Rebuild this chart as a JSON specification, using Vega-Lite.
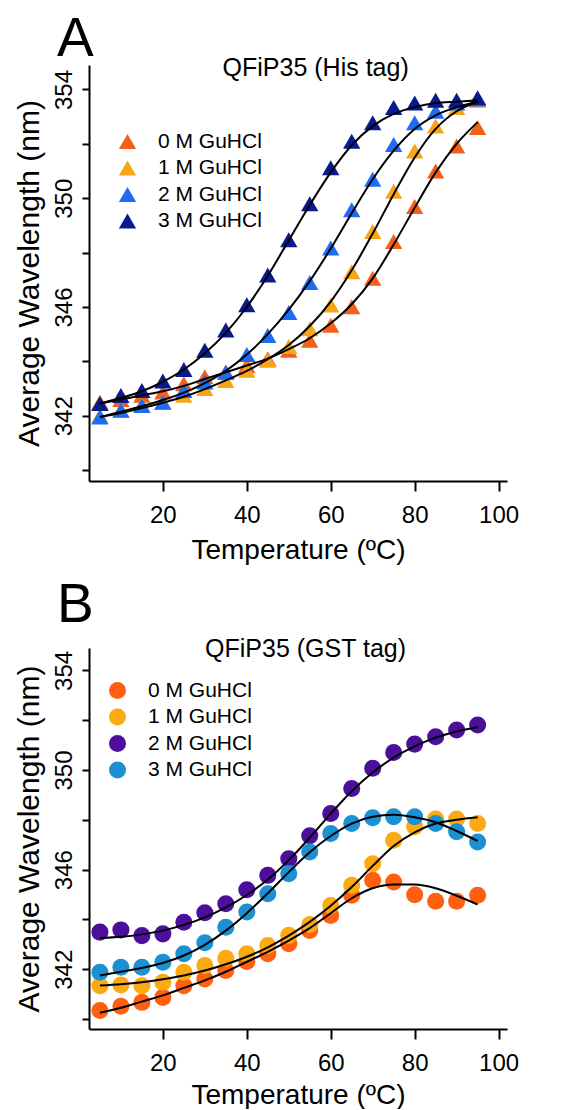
{
  "$schema": "https://vega.github.io/schema/vega-lite/v6.json",
  "background": "white",
  "padding": {"left": 14, "top": 11, "right": 0, "bottom": 0},
  "spacing": 14,
  "config": {
    "font": "Liberation Sans",
    "view": {"stroke": null},
    "axis": {
      "grid": false,
      "domainColor": "black",
      "domainWidth": 2,
      "tickColor": "black",
      "tickWidth": 2,
      "labelColor": "black",
      "titleColor": "black",
      "labelFontSize": 24,
      "titleFontSize": 28,
      "titleFontWeight": "normal",
      "labelFont": "Liberation Sans",
      "titleFont": "Liberation Sans",
      "labelFlush": false,
      "labelOverlap": false
    },
    "axisX": {"tickSize": 10, "labelPadding": 12, "titlePadding": 9},
    "axisY": {"tickSize": 7, "labelPadding": 6, "titlePadding": 8, "titleFontSize": 30, "labelAngle": 270, "labelAlign": "center", "labelBaseline": "bottom"},
    "legend": {
      "orient": "none",
      "title": null,
      "labelFontSize": 21,
      "labelColor": "black",
      "labelFont": "Liberation Sans",
      "symbolSize": 300,
      "symbolOpacity": 1,
      "symbolStrokeWidth": 0,
      "rowPadding": 4.5,
      "labelOffset": 20,
      "padding": 0
    },
    "title": {"fontWeight": "normal", "color": "black", "font": "Liberation Sans"}
  },
  "datasets": {
    "his": [
      {"conc":"0 M GuHCl","temp":5,"wavelength":342.5,"fit":342.45},
      {"conc":"0 M GuHCl","temp":10,"wavelength":342.6,"fit":342.6},
      {"conc":"0 M GuHCl","temp":15,"wavelength":342.75,"fit":342.75},
      {"conc":"0 M GuHCl","temp":20,"wavelength":342.87,"fit":342.9},
      {"conc":"0 M GuHCl","temp":25,"wavelength":343.18,"fit":343.1},
      {"conc":"0 M GuHCl","temp":30,"wavelength":343.43,"fit":343.35},
      {"conc":"0 M GuHCl","temp":35,"wavelength":343.6,"fit":343.6},
      {"conc":"0 M GuHCl","temp":40,"wavelength":343.85,"fit":343.85},
      {"conc":"0 M GuHCl","temp":45,"wavelength":344.1,"fit":344.1},
      {"conc":"0 M GuHCl","temp":50,"wavelength":344.41,"fit":344.45},
      {"conc":"0 M GuHCl","temp":55,"wavelength":344.78,"fit":344.85},
      {"conc":"0 M GuHCl","temp":60,"wavelength":345.33,"fit":345.4},
      {"conc":"0 M GuHCl","temp":65,"wavelength":346.01,"fit":346.1},
      {"conc":"0 M GuHCl","temp":70,"wavelength":347.06,"fit":347.05},
      {"conc":"0 M GuHCl","temp":75,"wavelength":348.41,"fit":348.3},
      {"conc":"0 M GuHCl","temp":80,"wavelength":349.7,"fit":349.65},
      {"conc":"0 M GuHCl","temp":85,"wavelength":351.0,"fit":350.95},
      {"conc":"0 M GuHCl","temp":90,"wavelength":351.92,"fit":352.0},
      {"conc":"0 M GuHCl","temp":95,"wavelength":352.6,"fit":352.8},
      {"conc":"1 M GuHCl","temp":5,"wavelength":342.0,"fit":341.95},
      {"conc":"1 M GuHCl","temp":10,"wavelength":342.2,"fit":342.1},
      {"conc":"1 M GuHCl","temp":15,"wavelength":342.4,"fit":342.28},
      {"conc":"1 M GuHCl","temp":20,"wavelength":342.5,"fit":342.48},
      {"conc":"1 M GuHCl","temp":25,"wavelength":342.75,"fit":342.7},
      {"conc":"1 M GuHCl","temp":30,"wavelength":343.0,"fit":342.98},
      {"conc":"1 M GuHCl","temp":35,"wavelength":343.3,"fit":343.3},
      {"conc":"1 M GuHCl","temp":40,"wavelength":343.67,"fit":343.65},
      {"conc":"1 M GuHCl","temp":45,"wavelength":344.04,"fit":344.08},
      {"conc":"1 M GuHCl","temp":50,"wavelength":344.55,"fit":344.6},
      {"conc":"1 M GuHCl","temp":55,"wavelength":345.2,"fit":345.3},
      {"conc":"1 M GuHCl","temp":60,"wavelength":346.07,"fit":346.2},
      {"conc":"1 M GuHCl","temp":65,"wavelength":347.3,"fit":347.35},
      {"conc":"1 M GuHCl","temp":70,"wavelength":348.78,"fit":348.7},
      {"conc":"1 M GuHCl","temp":75,"wavelength":350.26,"fit":350.15},
      {"conc":"1 M GuHCl","temp":80,"wavelength":351.74,"fit":351.5},
      {"conc":"1 M GuHCl","temp":85,"wavelength":352.66,"fit":352.55},
      {"conc":"1 M GuHCl","temp":90,"wavelength":353.34,"fit":353.2},
      {"conc":"1 M GuHCl","temp":95,"wavelength":353.6,"fit":353.55},
      {"conc":"2 M GuHCl","temp":5,"wavelength":341.95,"fit":341.95},
      {"conc":"2 M GuHCl","temp":10,"wavelength":342.2,"fit":342.15},
      {"conc":"2 M GuHCl","temp":15,"wavelength":342.38,"fit":342.35},
      {"conc":"2 M GuHCl","temp":20,"wavelength":342.5,"fit":342.58},
      {"conc":"2 M GuHCl","temp":25,"wavelength":342.93,"fit":342.85},
      {"conc":"2 M GuHCl","temp":30,"wavelength":343.24,"fit":343.2},
      {"conc":"2 M GuHCl","temp":35,"wavelength":343.6,"fit":343.65},
      {"conc":"2 M GuHCl","temp":40,"wavelength":344.25,"fit":344.25},
      {"conc":"2 M GuHCl","temp":45,"wavelength":344.95,"fit":345.0},
      {"conc":"2 M GuHCl","temp":50,"wavelength":345.8,"fit":345.9},
      {"conc":"2 M GuHCl","temp":55,"wavelength":346.9,"fit":346.95},
      {"conc":"2 M GuHCl","temp":60,"wavelength":348.17,"fit":348.15},
      {"conc":"2 M GuHCl","temp":65,"wavelength":349.58,"fit":349.45},
      {"conc":"2 M GuHCl","temp":70,"wavelength":350.7,"fit":350.7},
      {"conc":"2 M GuHCl","temp":75,"wavelength":351.98,"fit":351.75},
      {"conc":"2 M GuHCl","temp":80,"wavelength":352.78,"fit":352.55},
      {"conc":"2 M GuHCl","temp":85,"wavelength":353.2,"fit":353.05},
      {"conc":"2 M GuHCl","temp":90,"wavelength":353.5,"fit":353.35},
      {"conc":"2 M GuHCl","temp":95,"wavelength":353.65,"fit":353.55},
      {"conc":"3 M GuHCl","temp":5,"wavelength":342.45,"fit":342.45},
      {"conc":"3 M GuHCl","temp":10,"wavelength":342.74,"fit":342.65},
      {"conc":"3 M GuHCl","temp":15,"wavelength":342.93,"fit":342.9},
      {"conc":"3 M GuHCl","temp":20,"wavelength":343.28,"fit":343.25},
      {"conc":"3 M GuHCl","temp":25,"wavelength":343.7,"fit":343.7},
      {"conc":"3 M GuHCl","temp":30,"wavelength":344.41,"fit":344.3},
      {"conc":"3 M GuHCl","temp":35,"wavelength":345.15,"fit":345.05},
      {"conc":"3 M GuHCl","temp":40,"wavelength":346.08,"fit":346.0},
      {"conc":"3 M GuHCl","temp":45,"wavelength":347.18,"fit":347.15},
      {"conc":"3 M GuHCl","temp":50,"wavelength":348.47,"fit":348.45},
      {"conc":"3 M GuHCl","temp":55,"wavelength":349.8,"fit":349.75},
      {"conc":"3 M GuHCl","temp":60,"wavelength":351.12,"fit":350.95},
      {"conc":"3 M GuHCl","temp":65,"wavelength":352.1,"fit":351.95},
      {"conc":"3 M GuHCl","temp":70,"wavelength":352.78,"fit":352.65},
      {"conc":"3 M GuHCl","temp":75,"wavelength":353.34,"fit":353.1},
      {"conc":"3 M GuHCl","temp":80,"wavelength":353.5,"fit":353.35},
      {"conc":"3 M GuHCl","temp":85,"wavelength":353.6,"fit":353.5},
      {"conc":"3 M GuHCl","temp":90,"wavelength":353.6,"fit":353.55},
      {"conc":"3 M GuHCl","temp":95,"wavelength":353.7,"fit":353.6}
    ],
    "gst": [
      {"conc":"0 M GuHCl","temp":5,"wavelength":340.34,"fit":340.25},
      {"conc":"0 M GuHCl","temp":10,"wavelength":340.51,"fit":340.45},
      {"conc":"0 M GuHCl","temp":15,"wavelength":340.67,"fit":340.7},
      {"conc":"0 M GuHCl","temp":20,"wavelength":340.87,"fit":340.95},
      {"conc":"0 M GuHCl","temp":25,"wavelength":341.34,"fit":341.25},
      {"conc":"0 M GuHCl","temp":30,"wavelength":341.61,"fit":341.55},
      {"conc":"0 M GuHCl","temp":35,"wavelength":341.95,"fit":341.9},
      {"conc":"0 M GuHCl","temp":40,"wavelength":342.31,"fit":342.3},
      {"conc":"0 M GuHCl","temp":45,"wavelength":342.62,"fit":342.7},
      {"conc":"0 M GuHCl","temp":50,"wavelength":343.02,"fit":343.15},
      {"conc":"0 M GuHCl","temp":55,"wavelength":343.56,"fit":343.65},
      {"conc":"0 M GuHCl","temp":60,"wavelength":344.16,"fit":344.25},
      {"conc":"0 M GuHCl","temp":65,"wavelength":344.97,"fit":344.85},
      {"conc":"0 M GuHCl","temp":70,"wavelength":345.57,"fit":345.25},
      {"conc":"0 M GuHCl","temp":75,"wavelength":345.5,"fit":345.4},
      {"conc":"0 M GuHCl","temp":80,"wavelength":344.99,"fit":345.4},
      {"conc":"0 M GuHCl","temp":85,"wavelength":344.73,"fit":345.25},
      {"conc":"0 M GuHCl","temp":90,"wavelength":344.73,"fit":344.95},
      {"conc":"0 M GuHCl","temp":95,"wavelength":344.97,"fit":344.6},
      {"conc":"1 M GuHCl","temp":5,"wavelength":341.34,"fit":341.35},
      {"conc":"1 M GuHCl","temp":10,"wavelength":341.37,"fit":341.4},
      {"conc":"1 M GuHCl","temp":15,"wavelength":341.34,"fit":341.48},
      {"conc":"1 M GuHCl","temp":20,"wavelength":341.48,"fit":341.6},
      {"conc":"1 M GuHCl","temp":25,"wavelength":341.88,"fit":341.75},
      {"conc":"1 M GuHCl","temp":30,"wavelength":342.15,"fit":341.95},
      {"conc":"1 M GuHCl","temp":35,"wavelength":342.44,"fit":342.2},
      {"conc":"1 M GuHCl","temp":40,"wavelength":342.62,"fit":342.5},
      {"conc":"1 M GuHCl","temp":45,"wavelength":342.95,"fit":342.88},
      {"conc":"1 M GuHCl","temp":50,"wavelength":343.36,"fit":343.35},
      {"conc":"1 M GuHCl","temp":55,"wavelength":343.8,"fit":343.9},
      {"conc":"1 M GuHCl","temp":60,"wavelength":344.56,"fit":344.55},
      {"conc":"1 M GuHCl","temp":65,"wavelength":345.37,"fit":345.3},
      {"conc":"1 M GuHCl","temp":70,"wavelength":346.24,"fit":346.15},
      {"conc":"1 M GuHCl","temp":75,"wavelength":347.18,"fit":346.95},
      {"conc":"1 M GuHCl","temp":80,"wavelength":347.72,"fit":347.5},
      {"conc":"1 M GuHCl","temp":85,"wavelength":348.03,"fit":347.85},
      {"conc":"1 M GuHCl","temp":90,"wavelength":348.03,"fit":348.0},
      {"conc":"1 M GuHCl","temp":95,"wavelength":347.85,"fit":348.1},
      {"conc":"2 M GuHCl","temp":5,"wavelength":343.49,"fit":343.25},
      {"conc":"2 M GuHCl","temp":10,"wavelength":343.58,"fit":343.3},
      {"conc":"2 M GuHCl","temp":15,"wavelength":343.35,"fit":343.4},
      {"conc":"2 M GuHCl","temp":20,"wavelength":343.42,"fit":343.55},
      {"conc":"2 M GuHCl","temp":25,"wavelength":343.89,"fit":343.78},
      {"conc":"2 M GuHCl","temp":30,"wavelength":344.27,"fit":344.08},
      {"conc":"2 M GuHCl","temp":35,"wavelength":344.63,"fit":344.48},
      {"conc":"2 M GuHCl","temp":40,"wavelength":345.19,"fit":344.98},
      {"conc":"2 M GuHCl","temp":45,"wavelength":345.77,"fit":345.6},
      {"conc":"2 M GuHCl","temp":50,"wavelength":346.44,"fit":346.38},
      {"conc":"2 M GuHCl","temp":55,"wavelength":347.36,"fit":347.28},
      {"conc":"2 M GuHCl","temp":60,"wavelength":348.25,"fit":348.25},
      {"conc":"2 M GuHCl","temp":65,"wavelength":349.26,"fit":349.15},
      {"conc":"2 M GuHCl","temp":70,"wavelength":350.07,"fit":349.9},
      {"conc":"2 M GuHCl","temp":75,"wavelength":350.7,"fit":350.5},
      {"conc":"2 M GuHCl","temp":80,"wavelength":351.04,"fit":350.95},
      {"conc":"2 M GuHCl","temp":85,"wavelength":351.34,"fit":351.3},
      {"conc":"2 M GuHCl","temp":90,"wavelength":351.61,"fit":351.55},
      {"conc":"2 M GuHCl","temp":95,"wavelength":351.81,"fit":351.72},
      {"conc":"3 M GuHCl","temp":5,"wavelength":341.88,"fit":341.75},
      {"conc":"3 M GuHCl","temp":10,"wavelength":342.08,"fit":341.9},
      {"conc":"3 M GuHCl","temp":15,"wavelength":342.08,"fit":342.05},
      {"conc":"3 M GuHCl","temp":20,"wavelength":342.28,"fit":342.25},
      {"conc":"3 M GuHCl","temp":25,"wavelength":342.62,"fit":342.55},
      {"conc":"3 M GuHCl","temp":30,"wavelength":343.06,"fit":342.98},
      {"conc":"3 M GuHCl","temp":35,"wavelength":343.69,"fit":343.55},
      {"conc":"3 M GuHCl","temp":40,"wavelength":344.3,"fit":344.25},
      {"conc":"3 M GuHCl","temp":45,"wavelength":345.03,"fit":345.05},
      {"conc":"3 M GuHCl","temp":50,"wavelength":345.84,"fit":345.9},
      {"conc":"3 M GuHCl","temp":55,"wavelength":346.71,"fit":346.7},
      {"conc":"3 M GuHCl","temp":60,"wavelength":347.45,"fit":347.35},
      {"conc":"3 M GuHCl","temp":65,"wavelength":347.85,"fit":347.85},
      {"conc":"3 M GuHCl","temp":70,"wavelength":348.08,"fit":348.12},
      {"conc":"3 M GuHCl","temp":75,"wavelength":348.12,"fit":348.2},
      {"conc":"3 M GuHCl","temp":80,"wavelength":348.12,"fit":348.1},
      {"conc":"3 M GuHCl","temp":85,"wavelength":347.85,"fit":347.9},
      {"conc":"3 M GuHCl","temp":90,"wavelength":347.52,"fit":347.55},
      {"conc":"3 M GuHCl","temp":95,"wavelength":347.11,"fit":347.15}
    ]
  },
  "vconcat": [
    {
      "title": {"text": "A", "anchor": "start", "frame": "group", "fontSize": 55, "dx": -32, "offset": -12},
      "width": 418,
      "height": 416,
      "layer": [
        {
          "data": {"name": "his"},
          "mark": {"type": "point", "shape": "triangle-up", "filled": true, "size": 300, "opacity": 1},
          "encoding": {
            "x": {"field": "temp", "type": "quantitative", "title": "Temperature (ºC)",
                  "scale": {"domain": [2.4, 102], "nice": false, "zero": false},
                  "axis": {"values": [20, 40, 60, 80, 100]}},
            "y": {"field": "wavelength", "type": "quantitative", "title": "Average Wavelength (nm)",
                  "scale": {"domain": [339.6, 354.9], "nice": false, "zero": false},
                  "axis": {"values": [340, 342, 344, 346, 348, 350, 352, 354], "labelExpr": "datum.value % 4 == 2 ? datum.label : ''"}},
            "color": {"field": "conc", "type": "nominal",
                      "scale": {"domain": ["0 M GuHCl", "1 M GuHCl", "2 M GuHCl", "3 M GuHCl"], "range": ["#F4601C", "#F8A519", "#1F6CF2", "#0A1A8C"]},
                      "legend": {"legendX": 28, "legendY": 66, "symbolType": "triangle-up"}}
          }
        },
        {
          "data": {"name": "his"},
          "mark": {"type": "line", "color": "black", "strokeWidth": 2, "interpolate": "monotone"},
          "encoding": {
            "x": {"field": "temp", "type": "quantitative"},
            "y": {"field": "fit", "type": "quantitative"},
            "detail": {"field": "conc", "type": "nominal"}
          }
        },
        {
          "data": {"values": [{"label": "QFiP35 (His tag)", "tx": 56.4, "ty": 354.8}]},
          "mark": {"type": "text", "fontSize": 25, "baseline": "middle", "align": "center", "color": "black"},
          "encoding": {
            "x": {"field": "tx", "type": "quantitative"},
            "y": {"field": "ty", "type": "quantitative"},
            "text": {"field": "label"}
          }
        }
      ]
    },
    {
      "title": {"text": "B", "anchor": "start", "frame": "group", "fontSize": 55, "dx": -32, "offset": 3},
      "width": 418,
      "height": 381,
      "layer": [
        {
          "data": {"name": "gst"},
          "mark": {"type": "point", "shape": "circle", "filled": true, "size": 290, "opacity": 1},
          "encoding": {
            "x": {"field": "temp", "type": "quantitative", "title": "Temperature (ºC)",
                  "scale": {"domain": [2.4, 102], "nice": false, "zero": false},
                  "axis": {"values": [20, 40, 60, 80, 100], "titlePadding": 6}},
            "y": {"field": "wavelength", "type": "quantitative", "title": "Average Wavelength (nm)",
                  "scale": {"domain": [339.6, 354.9], "nice": false, "zero": false},
                  "axis": {"values": [340, 342, 344, 346, 348, 350, 352, 354], "labelExpr": "datum.value % 4 == 2 ? datum.label : ''"}},
            "color": {"field": "conc", "type": "nominal",
                      "scale": {"domain": ["0 M GuHCl", "1 M GuHCl", "2 M GuHCl", "3 M GuHCl"], "range": ["#FF5F0F", "#FCAA12", "#4B0F9B", "#1B90D2"]},
                      "legend": {"legendX": 18, "legendY": 32, "symbolType": "circle", "symbolSize": 290}}
          }
        },
        {
          "data": {"name": "gst"},
          "mark": {"type": "line", "color": "black", "strokeWidth": 2, "interpolate": "monotone"},
          "encoding": {
            "x": {"field": "temp", "type": "quantitative"},
            "y": {"field": "fit", "type": "quantitative"},
            "detail": {"field": "conc", "type": "nominal"}
          }
        },
        {
          "data": {"values": [{"label": "QFiP35 (GST tag)", "tx": 54, "ty": 354.85}]},
          "mark": {"type": "text", "fontSize": 25, "baseline": "middle", "align": "center", "color": "black"},
          "encoding": {
            "x": {"field": "tx", "type": "quantitative"},
            "y": {"field": "ty", "type": "quantitative"},
            "text": {"field": "label"}
          }
        }
      ]
    }
  ],
  "resolve": {"scale": {"color": "independent"}, "legend": {"color": "independent"}}
}
